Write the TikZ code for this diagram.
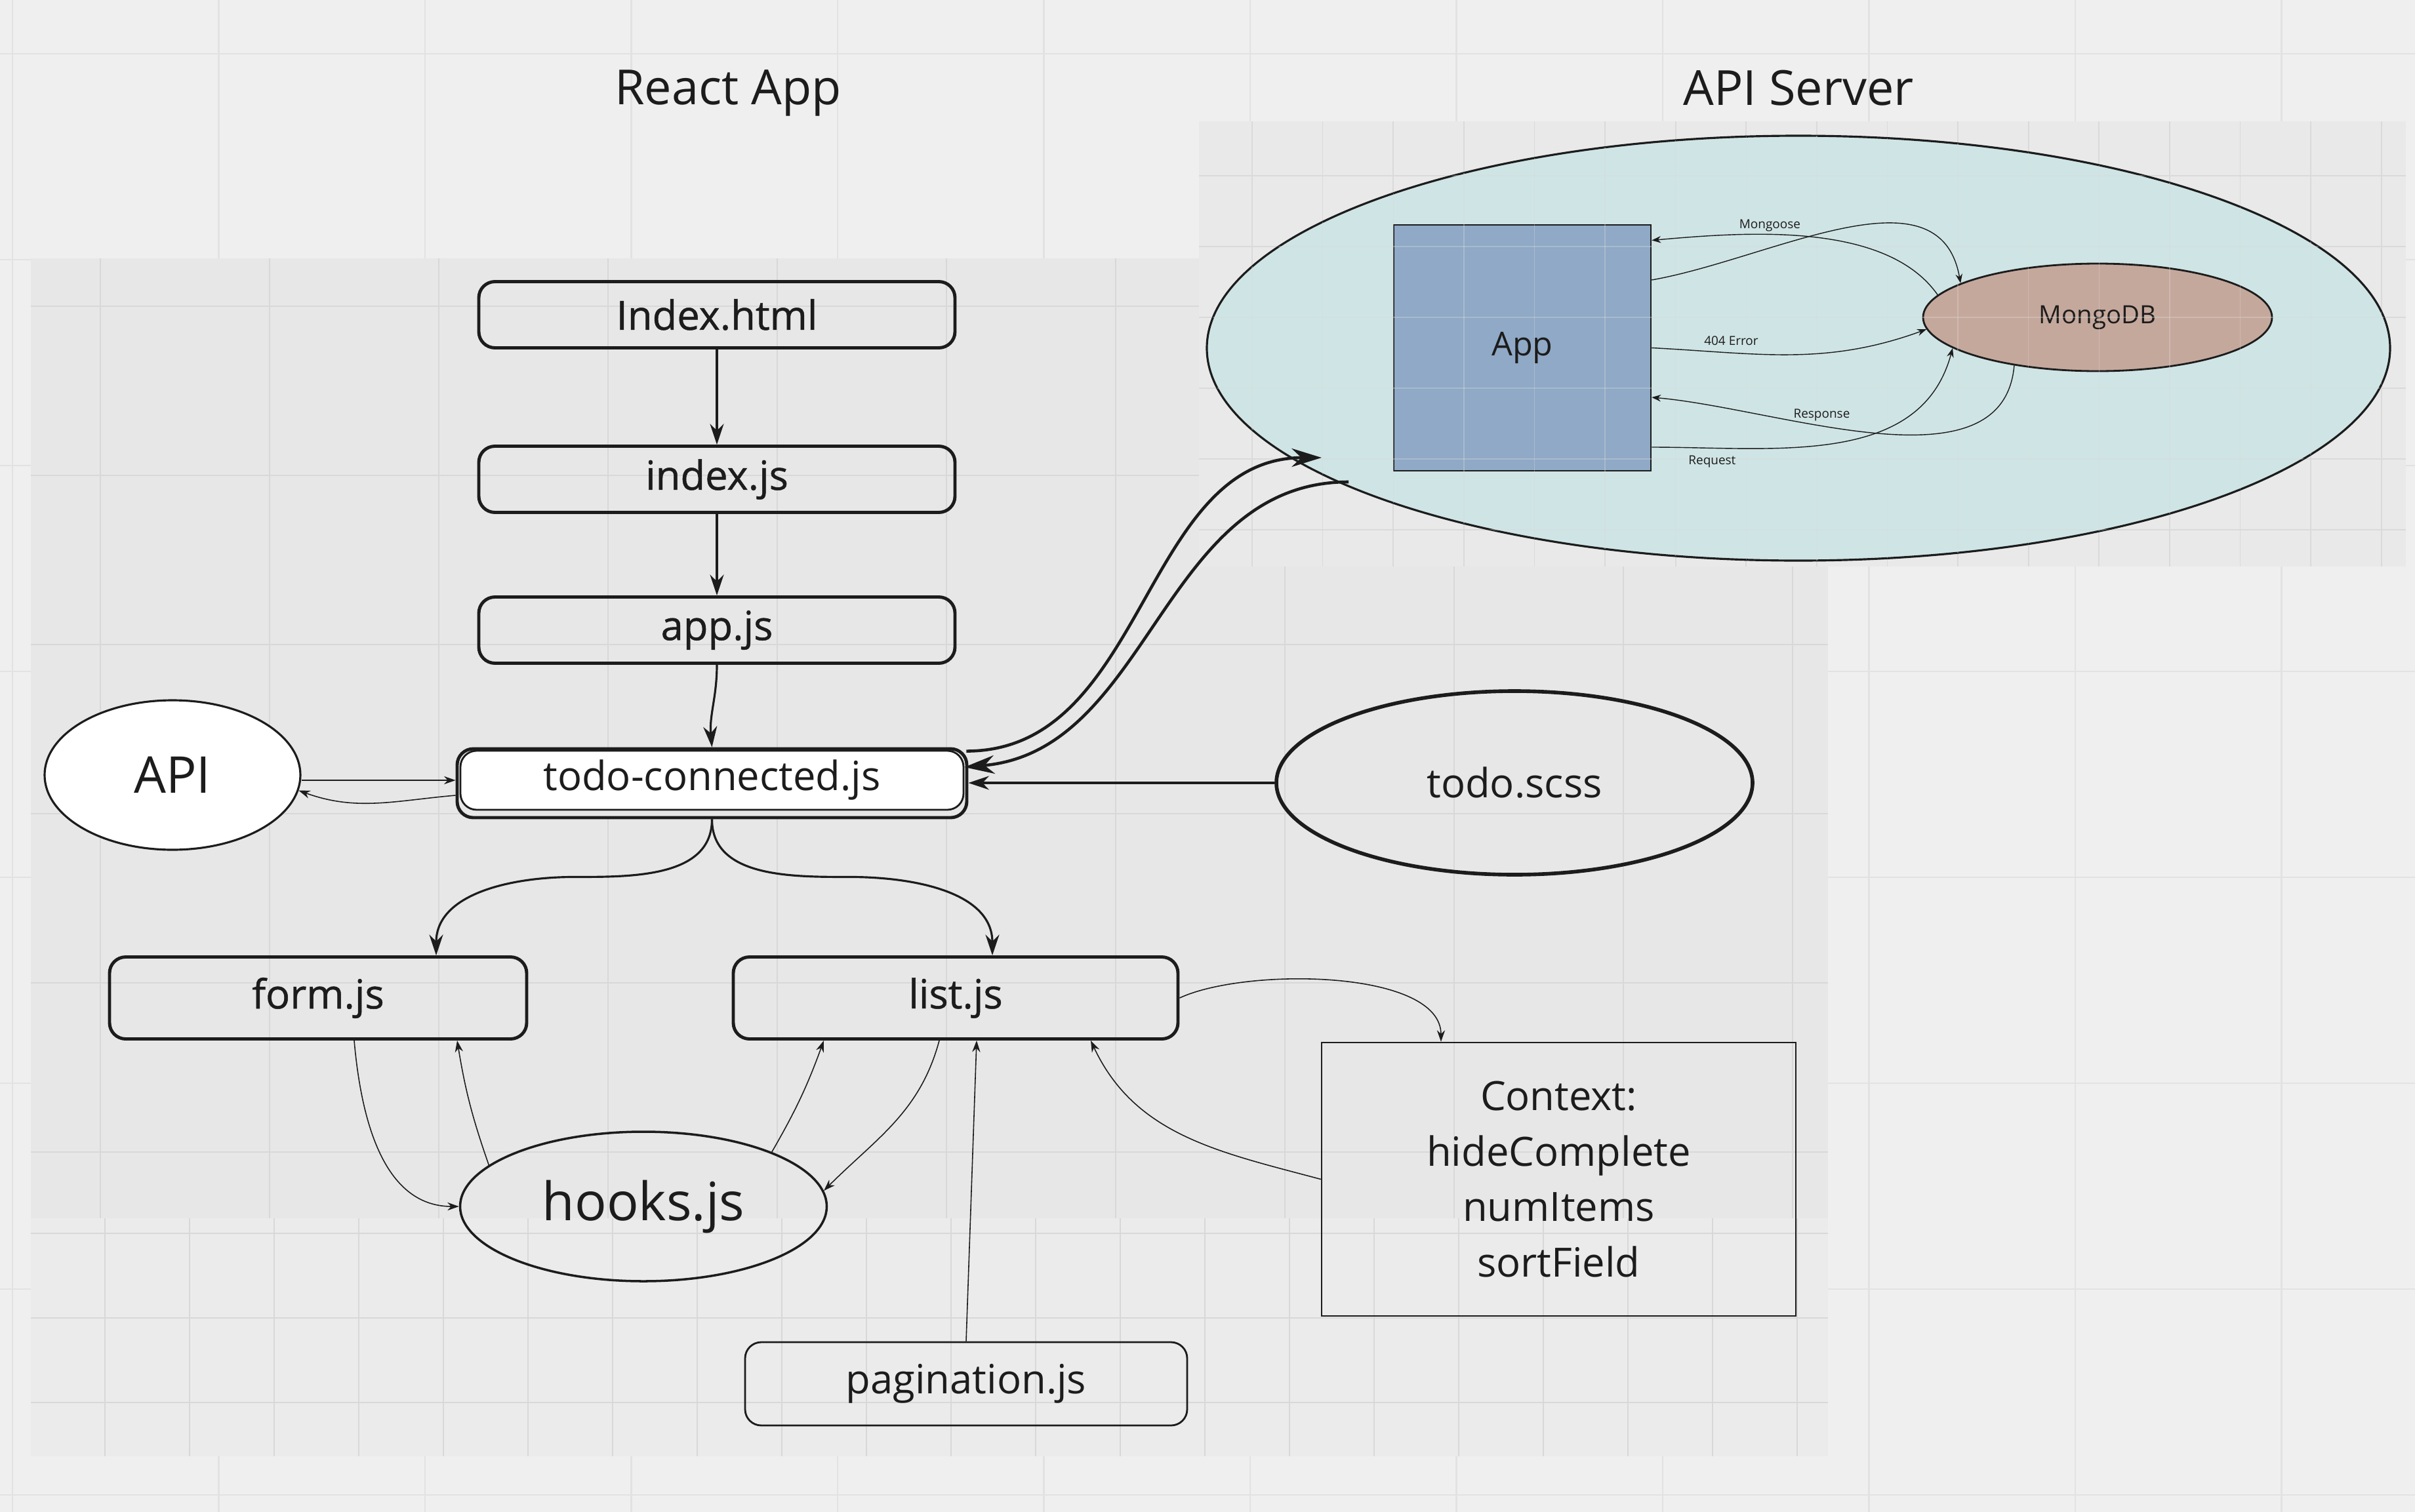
\documentclass[tikz,border=0pt]{standalone}
\usepackage{fontspec}
\setmainfont{Open Sans}
\newfontfamily\heavyfont[FakeBold=0.8]{Open Sans}
\usetikzlibrary{arrows.meta}
\usetikzlibrary{shapes,positioning}
\definecolor{boardbg}{HTML}{EFEFEF}
\definecolor{boardline}{HTML}{E2E2E2}
\definecolor{panelbg}{HTML}{E7E7E7}
\definecolor{panelline}{HTML}{D8D8D8}
\definecolor{panellow}{HTML}{EBEBEB}
\definecolor{srvbg}{HTML}{E9E9E9}
\definecolor{srvline}{HTML}{DADADA}
\definecolor{srvfill}{HTML}{CFE4E5}
\definecolor{appfill}{HTML}{8FA9C6}
\definecolor{mongofill}{HTML}{C5A89C}
\definecolor{ink}{HTML}{1C1C1C}
\tikzset{>={Stealth[length=9pt,width=6pt]},
  filebox/.style={draw=ink, rounded corners=7pt, line width=1.4pt,
    minimum width=7.26cm, minimum height=1.01cm, font=\fontsize{17.5}{20}\selectfont},
  heavybox/.style={filebox, font=\heavyfont\fontsize{17.5}{20}\selectfont},
  compbox/.style={heavybox, minimum height=1.25cm},
  blob/.style={ellipse, draw=ink, inner sep=0pt, font=\fontsize{17.5}{20}\selectfont},
  flow/.style={->, draw=ink, line width=0.9pt},
  bigflow/.style={-{Stealth[length=13pt,width=8pt]}, draw=ink, line width=1.3pt},
  link/.style={-{Stealth[length=5pt,width=3.5pt]}, draw=ink, line width=0.45pt},
  dblink/.style={-{Stealth[length=4pt,width=3pt]}, draw=ink, line width=0.4pt},
  lbl/.style={font=\fontsize{5.4}{6}\selectfont, inner sep=1pt},
  title/.style={font=\fontsize{21}{24}\selectfont}}

\begin{document}
\begin{tikzpicture}[color=ink]
    % board
    \useasboundingbox (0,0) rectangle (36.82,-23.06);
    \fill[boardbg] (0,0) rectangle (36.82,-23.06);
    \foreach \x in {0,...,11} \draw[boardline, line width=0.7pt] ({0.19+3.145*\x},0) -- ++(0,-23.06);
    \foreach \y in {0,...,7} \draw[boardline, line width=0.7pt] (0,{-0.82-3.14*\y}) -- ++(36.82,0);

    % react app panel
    \begin{scope}
      \clip (0.47,-3.94) rectangle (27.87,-22.21);
      \fill[panelbg] (0.47,-3.94) rectangle (27.87,-22.21);
      \fill[panellow] (0.47,-18.58) rectangle (27.87,-22.21);
      \foreach \x in {0,...,10} \draw[panelline, line width=0.8pt] ({1.53+2.58*\x},-3.94) -- ++(0,-14.64);
      \foreach \y in {0,...,5} \draw[panelline, line width=0.8pt] (0.47,{-4.67-2.58*\y}) -- ++(27.4,0);
      \foreach \x in {0,...,20} \draw[panelline, line width=0.4pt] ({1.60+1.29*\x},-18.58) -- ++(0,-3.63);
      \foreach \y in {0,...,2} \draw[panelline, line width=0.8pt] (0.47,{-18.81-1.29*\y}) -- ++(27.4,0);
    \end{scope}

    % api server panel
    \begin{scope}
      \clip (18.28,-1.85) rectangle (36.68,-8.64);
      \fill[srvbg] (18.28,-1.85) rectangle (36.68,-8.64);
      \foreach \x in {0,...,16} \draw[srvline, line width=0.5pt] ({19.09+1.076*\x},-1.85) -- ++(0,-6.79);
      \foreach \y in {0,...,5} \draw[srvline, line width=0.5pt] (18.28,{-2.68-1.08*\y}) -- ++(18.4,0);
    \end{scope}

    \node (reacttitle) [title] at (11.10,-1.42) {React App};
    \node (srvtitle) [title] at (27.42,-1.34) {API Server};

    % server side
    \node (server) [ellipse, draw, fill=srvfill, line width=0.9pt, minimum width=18.04cm, minimum height=6.48cm] at (27.42,-5.31) {};
    \node (apprect) [draw, fill=appfill, line width=0.7pt, minimum width=3.92cm, minimum height=3.75cm, font=\fontsize{14.3}{16}\selectfont] at (23.21,-5.305) {App};
    \node (mongo) [ellipse, draw, fill=mongofill, line width=0.8pt, inner sep=0pt, minimum width=5.32cm, minimum height=1.64cm, font=\fontsize{10.9}{12}\selectfont] at (31.98,-4.84) {MongoDB};
    \begin{scope}
      \clip (server.center) ellipse [x radius=9.02, y radius=3.24];
      \foreach \x in {0,...,16} \draw[srvline, opacity=0.35] ({19.09+1.076*\x},-1.85) -- ++(0,-6.79);
      \foreach \y in {0,...,5} \draw[srvline, opacity=0.35] (18.28,{-2.68-1.08*\y}) -- ++(18.4,0);
    \end{scope}
    \coordinate (srvin) at (20.15,-6.98);
    \coordinate (srvout) at (20.56,-7.35);

    \draw[dblink] (mongo.172) to[out=125,in=5,looseness=0.8] node[lbl, pos=0.62, above] {Mongoose} ([yshift=1.64cm]apprect.east);
    \draw[dblink] ([yshift=1.035cm]apprect.east) to[out=10,in=100] (mongo.166);
    \draw[dblink] (apprect.east) to[out=-3,in=200] node[lbl, pos=0.27, above=2pt] {404 Error} (mongo.184);
    \draw[dblink] (mongo.-150) to[out=-95,in=-5,looseness=0.9] node[lbl, pos=0.62, above=1pt] {Response} ([yshift=-0.755cm]apprect.east);
    \draw[dblink] ([yshift=-1.515cm]apprect.east) to[out=0,in=-105] node[lbl, pos=0.16, below=2pt] {Request} (mongo.-168);

    % react side
    \node (idxhtml) [heavybox] at (10.93,-4.80) {Index.html};
    \node (idxjs) [heavybox] at (10.93,-7.31) {index.js};
    \node (appjs) [heavybox] at (10.93,-9.61) {app.js};
    \node (todoframe) [filebox, minimum width=7.77cm, minimum height=1.05cm, fill=panelbg] at (10.855,-11.945) {};
    \node (todo) [filebox, line width=0.8pt, fill=white, minimum width=7.67cm, minimum height=0.90cm] at (10.855,-11.90) {todo-connected.js};
    \node (api) [blob, fill=white, line width=0.9pt, minimum width=3.90cm, minimum height=2.28cm, font=\fontsize{22}{24}\selectfont] at (2.63,-11.82) {API};
    \node (scss) [blob, line width=1.6pt, minimum width=7.26cm, minimum height=2.80cm] at (23.09,-11.94) {todo.scss};
    \node (form) [compbox, minimum width=6.36cm] at (4.85,-15.22) {form.js};
    \node (list) [compbox, minimum width=6.78cm] at (14.57,-15.22) {list.js};
    \node (hooks) [blob, line width=1pt, minimum width=5.59cm, minimum height=2.28cm, font=\fontsize{23}{26}\selectfont] at (9.81,-18.40) {hooks.js};
    \node (ctx) [draw, line width=0.7pt, minimum width=7.23cm, minimum height=4.17cm, align=center, font=\fontsize{17.5}{24}\selectfont] at (23.765,-17.985) {Context:\\hideComplete\\numItems\\sortField};
    \node (pag) [filebox, line width=0.8pt, minimum width=6.74cm, minimum height=1.27cm] at (14.73,-21.105) {pagination.js};

    \draw[flow] (idxhtml) -- (idxjs);
    \draw[flow] (idxjs) -- (appjs);
    \draw[flow] (appjs.south) to[out=-90,in=95] (todoframe.north);
    \draw[link] (api.east |- todo.west) -- (todoframe.west |- todo.west);
    \draw[link] ([yshift=-1.85mm]todoframe.west) to[out=185,in=-20] (api.-7);
    \draw[bigflow] ([xshift=-0.3mm,yshift=-0.6mm]todoframe.north east) to[out=0,in=180] (srvin);
    \draw[bigflow] (srvout) to[out=180,in=5] ([yshift=2mm]todo.east);
    \draw[flow] (scss.west) -- (scss.west -| todoframe.east);
    \draw[flow] (todoframe.south) to[out=-90,in=0] ++(-2.1,-0.88) to[out=180,in=90] ([xshift=1.8cm]form.north);
    \draw[flow] (todoframe.south) to[out=-90,in=180] ++(2.1,-0.88) to[out=0,in=90] ([xshift=0.56cm]list.north);

    \draw[link] ([xshift=0.55cm]form.south) to[out=-85,in=180] (hooks.west);
    \draw[link] (hooks.165) to[bend left=5] ([xshift=2.12cm]form.south);
    \draw[link] (hooks.23) to[bend right=5] ([xshift=-2.01cm]list.south);
    \draw[link] ([xshift=-0.25cm]list.south) to[out=-105,in=45] (hooks.5);
    \draw[link] (pag.north) -- ([xshift=0.32cm]list.south);
    \draw[link] (ctx.west) to[out=165,in=-65] ([xshift=2.06cm]list.south);
    \draw[link] (list.east) to[out=25,in=90,looseness=0.7] ([xshift=-1.795cm]ctx.north);
\end{tikzpicture}
\end{document}
